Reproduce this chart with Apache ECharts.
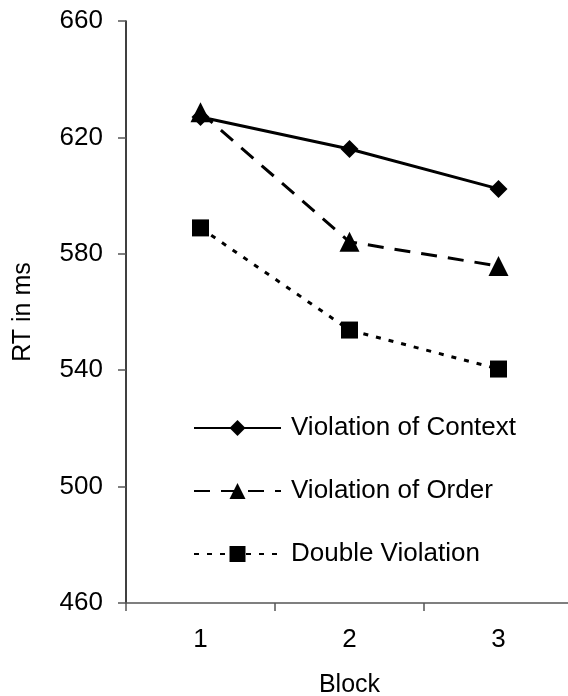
<!DOCTYPE html>
<html><head><meta charset="utf-8">
<script src="https://cdn.jsdelivr.net/npm/echarts@6/dist/echarts.min.js"></script>
<style>html,body{margin:0;padding:0;background:#fff}#c{width:568px;height:696px}</style>
</head><body><div id="c"></div>
<script>
var categories = ['1', '2', '3'];
var seriesNames = ['Violation of Context', 'Violation of Order', 'Double Violation'];
var contextRT = [627, 616, 602.3];
var orderRT = [628.6, 584.1, 575.8];
var doubleRT = [588.9, 553.8, 540.4];
var yTicks = { min: 460, max: 660, interval: 40 };

var FONT = '"Liberation Sans", Arial, sans-serif';
var chart = echarts.init(document.getElementById('c'), null, { renderer: 'canvas' });
chart.setOption({
  animation: false,
  backgroundColor: '#fff',
  grid: { left: 126, right: -5, top: 21, bottom: 93, containLabel: false, outerBoundsMode: 'none' },
  legend: {
    orient: 'vertical', left: 188, top: 410,
    itemWidth: 87, itemHeight: 20, itemGap: 37,
    textStyle: { fontFamily: FONT, fontSize: 26, color: '#000', padding: [0, 0, 0, 5] },
    data: seriesNames
  },
  xAxis: {
    type: 'category', data: categories, boundaryGap: true,
    name: 'Block', nameLocation: 'middle', nameGap: 70,
    nameTextStyle: { fontFamily: FONT, fontSize: 25, color: '#000' },
    axisLine: { lineStyle: { color: '#555', width: 1.5 } },
    axisTick: { show: true, length: 8, lineStyle: { color: '#555', width: 1.5 } },
    axisLabel: { fontFamily: FONT, fontSize: 26, color: '#000', margin: 24 },
    splitLine: { show: false }
  },
  yAxis: {
    type: 'value', min: yTicks.min, max: yTicks.max, interval: yTicks.interval,
    name: 'RT in ms', nameLocation: 'middle', nameGap: 90, nameRotate: 90,
    nameTextStyle: { fontFamily: FONT, fontSize: 25, color: '#000' },
    axisLine: { show: true, lineStyle: { color: '#000', width: 1.5 } },
    axisTick: { show: true, length: 8, lineStyle: { color: '#555', width: 1.5 } },
    axisLabel: { fontFamily: FONT, fontSize: 26, color: '#000', margin: 23 },
    splitLine: { show: false }
  },
  series: [
    { name: seriesNames[0], type: 'line', data: contextRT, symbol: 'diamond', symbolSize: 18,
      itemStyle: { color: '#000' }, lineStyle: { color: '#000', width: 3, type: 'solid' }, z: 3 },
    { name: seriesNames[1], type: 'line', data: orderRT, symbol: 'triangle', symbolSize: 20,
      itemStyle: { color: '#000' }, lineStyle: { color: '#000', width: 3, type: [16, 11] }, z: 2 },
    { name: seriesNames[2], type: 'line', data: doubleRT, symbol: 'rect', symbolSize: 17,
      itemStyle: { color: '#000' }, lineStyle: { color: '#000', width: 3, type: [5, 8] }, z: 2 }
  ]
});
</script></body></html>
